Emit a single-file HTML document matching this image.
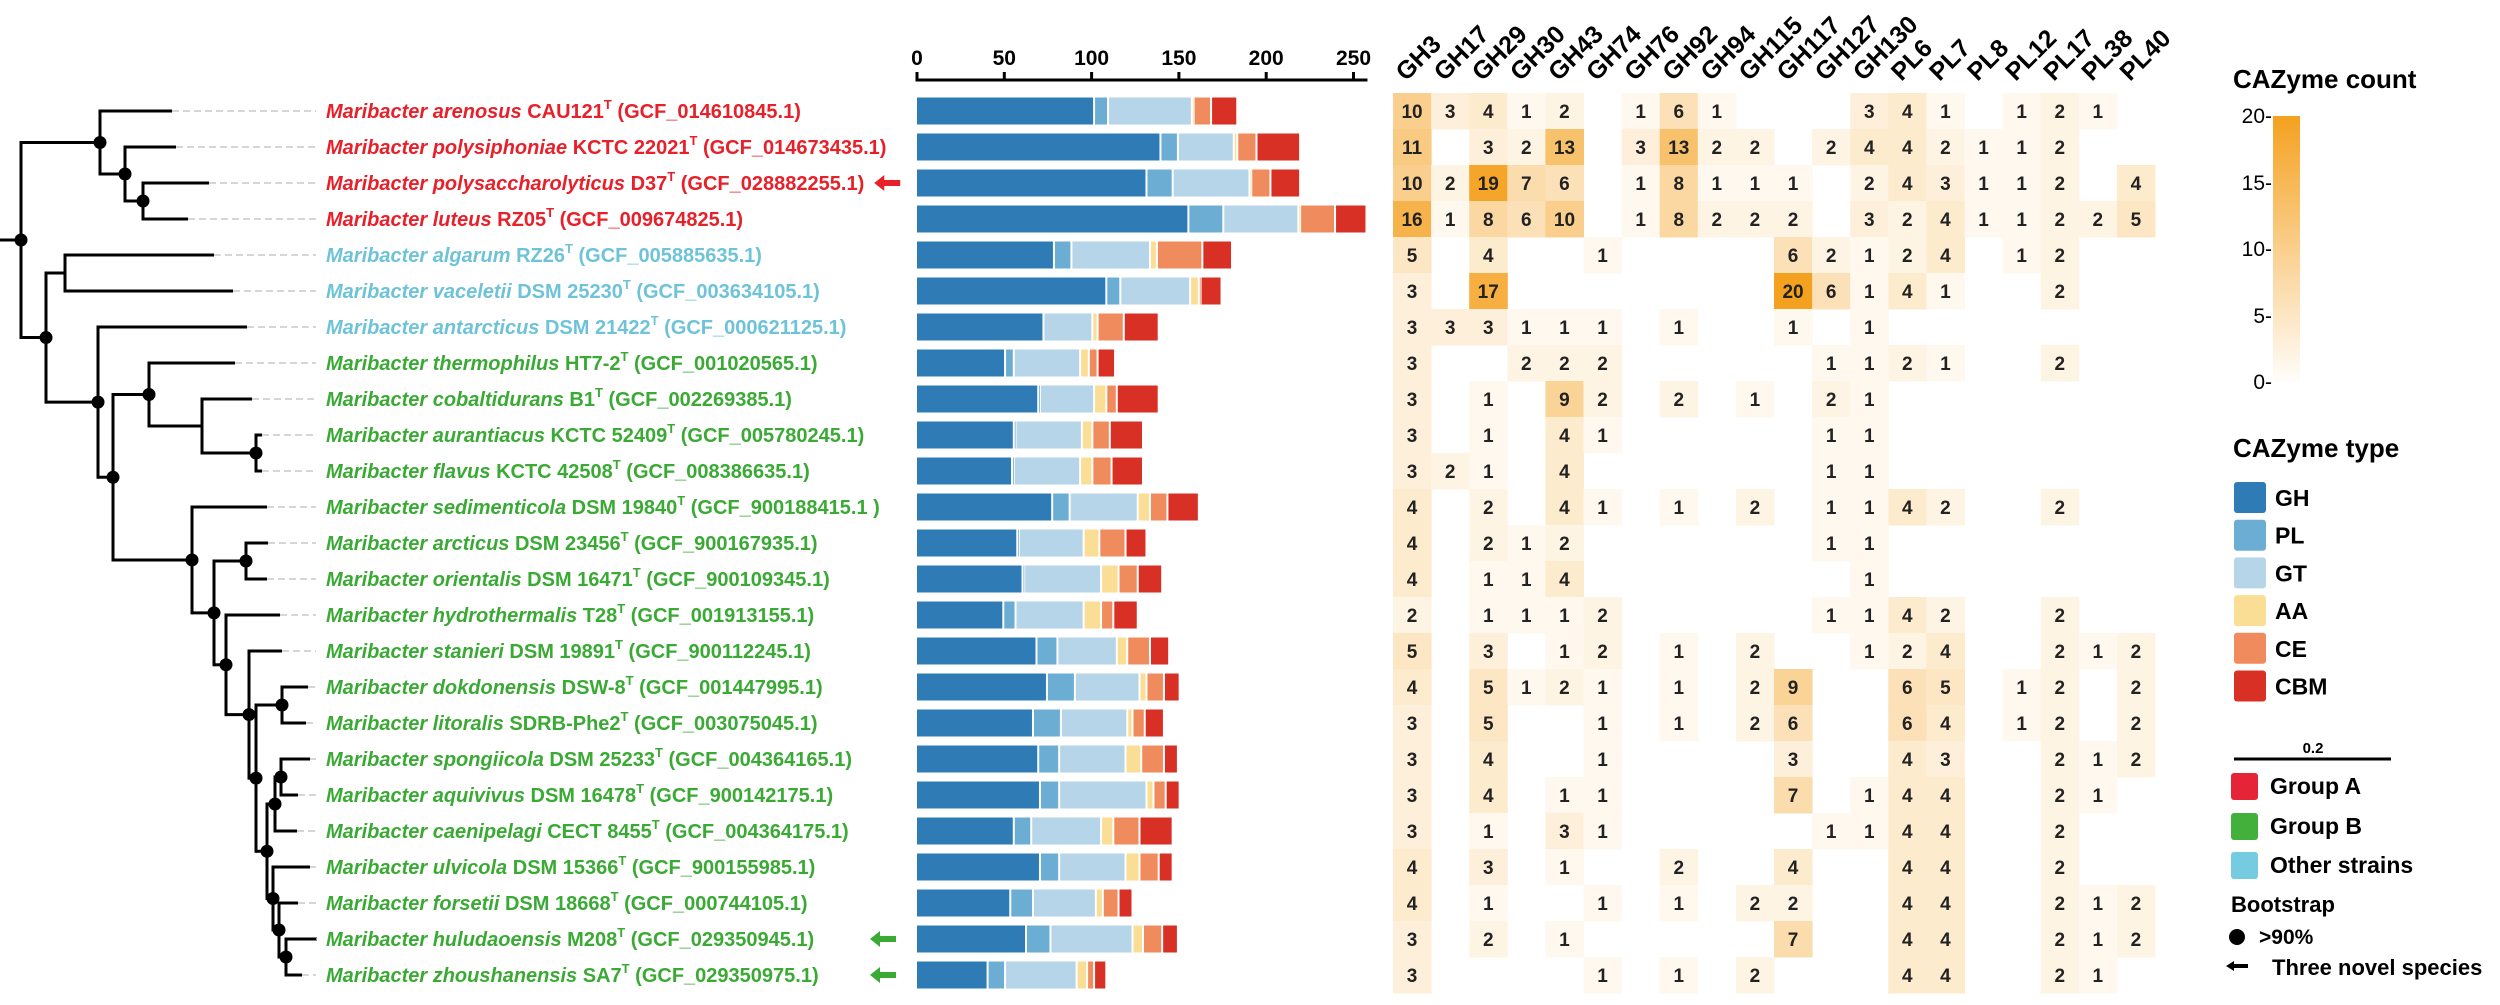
<!DOCTYPE html>
<html>
<head>
<meta charset="utf-8">
<style>
  html,body{margin:0;padding:0;background:#fff;}
  svg{display:block;font-family:"Liberation Sans",Arial,sans-serif;}
</style>
</head>
<body>
<svg id="fig" width="2500" height="1005" viewBox="0 0 2500 1005" xmlns="http://www.w3.org/2000/svg">
  <g id="tree"></g>
  <g id="labels"></g>
  <g id="bars"></g>
  <g id="heat"></g>
  <g id="legend">
    <defs>
      <linearGradient id="grad" x1="0" y1="1" x2="0" y2="0">
        <stop offset="0" stop-color="#FFFDFA"/>
        <stop offset="1" stop-color="#F4A11F"/>
      </linearGradient>
    </defs>
    <text x="2233" y="88" font-size="26" font-weight="bold">CAZyme count</text>
    <rect x="2273" y="116" width="27" height="266" fill="url(#grad)"/>
    <g font-size="21" text-anchor="end">
      <text x="2272" y="123">20-</text>
      <text x="2272" y="190">15-</text>
      <text x="2272" y="256">10-</text>
      <text x="2272" y="323">5-</text>
      <text x="2272" y="389">0-</text>
    </g>
    <text x="2233" y="457" font-size="26" font-weight="bold">CAZyme type</text>
    <g id="typeLegend"></g>
    <text x="2313" y="753" font-size="15" font-weight="bold" text-anchor="middle">0.2</text>
    <line x1="2234" y1="759" x2="2391" y2="759" stroke="#000" stroke-width="3"/>
    <rect x="2231" y="773" width="27" height="27" rx="3" fill="#E52437"/>
    <text x="2270" y="794" font-size="23" font-weight="bold">Group A</text>
    <rect x="2231" y="813" width="27" height="27" rx="3" fill="#44B03C"/>
    <text x="2270" y="834" font-size="23" font-weight="bold">Group B</text>
    <rect x="2231" y="852" width="27" height="27" rx="3" fill="#75CCE0"/>
    <text x="2270" y="873" font-size="23" font-weight="bold">Other strains</text>
    <text x="2231" y="912" font-size="22" font-weight="bold">Bootstrap</text>
    <circle cx="2237" cy="937" r="8" fill="#000"/>
    <text x="2259" y="944" font-size="21" font-weight="bold">&gt;90%</text>
    <g>
      <line x1="2232" y1="966" x2="2248" y2="966" stroke="#000" stroke-width="4"/>
      <polygon points="2226,966 2234,961 2234,971" fill="#000"/>
    </g>
    <text x="2272" y="975" font-size="22" font-weight="bold">Three novel species</text>
  </g>
</svg>
<script>
const NS = "http://www.w3.org/2000/svg";
// ---------------- data ----------------
const species = ["arenosus","polysiphoniae","polysaccharolyticus","luteus","algarum","vaceletii","antarcticus","thermophilus","cobaltidurans","aurantiacus","flavus","sedimenticola","arcticus","orientalis","hydrothermalis","stanieri","dokdonensis","litoralis","spongiicola","aquivivus","caenipelagi","ulvicola","forsetii","huludaoensis","zhoushanensis"];
const strains = ["CAU121","KCTC 22021","D37","RZ05","RZ26","DSM 25230","DSM 21422","HT7-2","B1","KCTC 52409","KCTC 42508","DSM 19840","DSM 23456","DSM 16471","T28","DSM 19891","DSW-8","SDRB-Phe2","DSM 25233","DSM 16478","CECT 8455","DSM 15366","DSM 18668","M208","SA7"];
const accessions = ["(GCF_014610845.1)","(GCF_014673435.1)","(GCF_028882255.1)","(GCF_009674825.1)","(GCF_005885635.1)","(GCF_003634105.1)","(GCF_000621125.1)","(GCF_001020565.1)","(GCF_002269385.1)","(GCF_005780245.1)","(GCF_008386635.1)","(GCF_900188415.1 )","(GCF_900167935.1)","(GCF_900109345.1)","(GCF_001913155.1)","(GCF_900112245.1)","(GCF_001447995.1)","(GCF_003075045.1)","(GCF_004364165.1)","(GCF_900142175.1)","(GCF_004364175.1)","(GCF_900155985.1)","(GCF_000744105.1)","(GCF_029350945.1)","(GCF_029350975.1)"];
const groups = ["A","A","A","A","O","O","O","B","B","B","B","B","B","B","B","B","B","B","B","B","B","B","B","B","B"];
const novel = [2,23,24];

const typeNames = ["GH","PL","GT","AA","CE","CBM"];
const GH  = [102,140,132,156,79,109,73,51,70,56,55,78,58,61,50,69,75,67,70,71,56,71,54,63,41];
const PL  = [8,10,15,20,10,8,0,5,1,1,1,10,1,1,7,12,16,16,12,11,10,11,13,14,10];
const GT  = [48,32,44,43,45,40,28,38,31,38,38,39,37,44,39,34,37,38,38,50,40,38,36,47,41];
const AA  = [1,2,1,1,4,5,3,5,7,6,7,7,9,10,10,6,4,3,9,4,7,8,4,6,6];
const CE  = [10,11,11,20,26,1,15,5,6,10,11,10,15,11,7,13,10,7,13,7,15,11,9,11,4];
const CBM = [15,25,17,18,17,12,20,10,24,19,18,18,12,14,14,11,9,11,8,8,19,8,8,9,7];
const barTicks = [0,50,100,150,200,250];

const families = ["GH3","GH17","GH29","GH30","GH43","GH74","GH76","GH92","GH94","GH115","GH117","GH127","GH130","PL6","PL7","PL8","PL12","PL17","PL38","PL40"];
const heat = [
 [10,3,4,1,2,0,1,6,1,0,0,0,3,4,1,0,1,2,1,0],
 [11,0,3,2,13,0,3,13,2,2,0,2,4,4,2,1,1,2,0,0],
 [10,2,19,7,6,0,1,8,1,1,1,0,2,4,3,1,1,2,0,4],
 [16,1,8,6,10,0,1,8,2,2,2,0,3,2,4,1,1,2,2,5],
 [5,0,4,0,0,1,0,0,0,0,6,2,1,2,4,0,1,2,0,0],
 [3,0,17,0,0,0,0,0,0,0,20,6,1,4,1,0,0,2,0,0],
 [3,3,3,1,1,1,0,1,0,0,1,0,1,0,0,0,0,0,0,0],
 [3,0,0,2,2,2,0,0,0,0,0,1,1,2,1,0,0,2,0,0],
 [3,0,1,0,9,2,0,2,0,1,0,2,1,0,0,0,0,0,0,0],
 [3,0,1,0,4,1,0,0,0,0,0,1,1,0,0,0,0,0,0,0],
 [3,2,1,0,4,0,0,0,0,0,0,1,1,0,0,0,0,0,0,0],
 [4,0,2,0,4,1,0,1,0,2,0,1,1,4,2,0,0,2,0,0],
 [4,0,2,1,2,0,0,0,0,0,0,1,1,0,0,0,0,0,0,0],
 [4,0,1,1,4,0,0,0,0,0,0,0,1,0,0,0,0,0,0,0],
 [2,0,1,1,1,2,0,0,0,0,0,1,1,4,2,0,0,2,0,0],
 [5,0,3,0,1,2,0,1,0,2,0,0,1,2,4,0,0,2,1,2],
 [4,0,5,1,2,1,0,1,0,2,9,0,0,6,5,0,1,2,0,2],
 [3,0,5,0,0,1,0,1,0,2,6,0,0,6,4,0,1,2,0,2],
 [3,0,4,0,0,1,0,0,0,0,3,0,0,4,3,0,0,2,1,2],
 [3,0,4,0,1,1,0,0,0,0,7,0,1,4,4,0,0,2,1,0],
 [3,0,1,0,3,1,0,0,0,0,0,1,1,4,4,0,0,2,0,0],
 [4,0,3,0,1,0,0,2,0,0,4,0,0,4,4,0,0,2,0,0],
 [4,0,1,0,0,1,0,1,0,2,2,0,0,4,4,0,0,2,1,2],
 [3,0,2,0,1,0,0,0,0,0,7,0,0,4,4,0,0,2,1,2],
 [3,0,0,0,0,1,0,1,0,2,0,0,0,4,4,0,0,2,1,0]
];
const heatMax = 20;

// ---------------- layout helpers ----------------
const typeColors = ["#2E7BB6","#6BADD3","#B6D5E8","#FBDE96","#F08B5E","#D93025"];
const groupColors = {A:"#E8202A",B:"#3AAA35",O:"#6EC3D8"};
function rowY(i){ return 111 + 36*i; }
const barX0 = 917, barK = 1.746;
function xBar(v){ return barX0 + v*barK; }
const hx0 = 1393, hcw = 38.1, hy0 = 93, hch = 36;
function hColX(j){ return hx0 + j*hcw; }
function hRowY(i){ return hy0 + i*hch; }
function heatColor(v){
  const t = Math.min(1, v/heatMax);
  const a=[255,253,250], b=[244,161,31];
  return "rgb("+a.map((c,k)=>Math.round(c+(b[k]-c)*t)).join(",")+")";
}
function mk(tag, attrs, parent){
  const e = document.createElementNS(NS, tag);
  for (const k in attrs) e.setAttribute(k, attrs[k]);
  parent.appendChild(e);
  return e;
}

// ---------------- tree ----------------
function L(i, tip){ return {leaf:i, tip:tip}; }
function N(x, c, dot){ return {x:x, c:c, dot:dot}; }
const treeRoot = N(21,[
  N(100,[L(0,172), N(125,[L(1,176), N(143,[L(2,209),L(3,188)],1)],1)],1),
  N(46,[
    N(65,[L(4,214),L(5,233)],0),
    N(98,[L(6,247),
      N(113,[
        N(149,[L(7,235), N(202,[L(8,252), N(256,[L(9,262),L(10,262)],1)],0)],1),
        N(192,[L(11,267),
          N(214,[
            N(246,[L(12,268),L(13,267)],1),
            N(226,[L(14,280),
              N(249,[L(15,282),
                N(256,[
                  N(282,[L(16,308),L(17,306)],1),
                  N(267,[
                    N(275,[N(281,[L(18,310),L(19,298)],1), L(20,297)],1),
                    N(273,[L(21,310), N(279,[L(22,298), N(286,[L(23,317),L(24,302)],1)],1)],1)
                  ],1)
                ],1)
              ],1)
            ],1)
          ],1)
        ],1)
      ],1)
    ],1)
  ],1)
],1);
const treeG = document.getElementById("tree");
const dots = [];
function layout(n){
  if (n.leaf !== undefined){ n.y = rowY(n.leaf); return n.y; }
  const ys = n.c.map(layout);
  n.y = (ys[0] + ys[ys.length-1]) / 2;
  return n.y;
}
layout(treeRoot);
function drawNode(n){
  if (n.leaf !== undefined) return;
  const ys = n.c.map(c=>c.y);
  const v = mk("line",{x1:n.x,y1:ys[0],x2:n.x,y2:ys[ys.length-1],stroke:"#000","stroke-width":3,"stroke-linecap":"square"},treeG);
  
  
  n.c.forEach(c=>{
    const x2 = c.leaf !== undefined ? c.tip : c.x;
    const h = mk("line",{x1:n.x,y1:c.y,x2:x2,y2:c.y,stroke:"#000","stroke-width":3},treeG);
    
    
    if (c.leaf !== undefined){
      const d = mk("line",{x1:c.tip,y1:c.y,x2:316,y2:c.y,stroke:"#C8C8C8","stroke-width":1.5,"stroke-dasharray":"7 4"},treeG);
      
      
    }
    drawNode(c);
  });
  if (n.dot) dots.push([n.x, n.y]);
}
const stub = mk("line",{x1:0,y1:treeRoot.y,x2:21,y2:treeRoot.y,stroke:"#000","stroke-width":3},treeG);


drawNode(treeRoot);
dots.forEach(p=>{
  const c = mk("circle",{cx:p[0],cy:p[1],r:6.5,fill:"#000"},treeG);
  
  
});

// ---------------- labels ----------------
const labG = document.getElementById("labels");
species.forEach((sp,i)=>{
  const col = groupColors[groups[i]];
  const t = mk("text",{x:326,y:rowY(i)+7,"font-size":20,"font-weight":"bold",fill:col},labG);
  
  
  const it = mk("tspan",{"font-style":"italic"},t); it.textContent = "Maribacter "+sp;
  const s = mk("tspan",{},t); s.textContent = " "+strains[i];
  const sup = mk("tspan",{dy:-9,"font-size":13},t); sup.textContent = "T";
  const ac = mk("tspan",{dy:9},t); ac.textContent = " "+accessions[i];
});
novel.forEach(i=>{
  const col = groupColors[groups[i]];
  const bb = labG.children[i].getBBox();
  const x = Math.max(bb.x + bb.width + 10, 870);
  const g = mk("g",{},labG);
  
  
  mk("rect",{x:x+8,y:rowY(i)-3,width:18,height:6,fill:col},g);
  mk("polygon",{points:(x)+","+rowY(i)+" "+(x+10)+","+(rowY(i)-8)+" "+(x+10)+","+(rowY(i)+8),fill:col},g);
});

// ---------------- bars ----------------
const barG = document.getElementById("bars");
const axisLine = mk("line",{x1:xBar(0)-1.5,y1:80,x2:xBar(258),y2:80,stroke:"#000","stroke-width":3},barG);


barTicks.forEach(v=>{
  const tk = mk("line",{x1:xBar(v),y1:72,x2:xBar(v),y2:80,stroke:"#000","stroke-width":3},barG);
  
  
  const tl = mk("text",{x:xBar(v),y:65,"font-size":21,"font-weight":"bold","text-anchor":"middle"},barG);
  
  
  tl.textContent = v;
});
const series = [GH,PL,GT,AA,CE,CBM];
species.forEach((sp,i)=>{
  let acc = 0;
  series.forEach((arr,k)=>{
    const v = arr[i];
    if (v > 0){
      const x = xBar(acc);
      const w = Math.max(0.8, v*barK - 2);
      const r = mk("rect",{x:x,y:rowY(i)-13.5,width:w,height:27,fill:typeColors[k]},barG);
      
      
    }
    acc += v;
  });
});

// ---------------- heatmap ----------------
const heatG = document.getElementById("heat");
families.forEach((f,j)=>{
  const cx = hColX(j) + hcw/2 - 6;
  const t = mk("text",{x:cx,y:82,"font-size":25,"font-weight":"bold",transform:"rotate(-45 "+cx+" 82)"},heatG);
  
  
  t.textContent = f;
});
heat.forEach((row,i)=>{
  row.forEach((v,j)=>{
    if (v <= 0) return;
    const r = mk("rect",{x:hColX(j),y:hRowY(i),width:hcw+0.5,height:hch+0.5,fill:heatColor(v)},heatG);
    
    
    const t = mk("text",{x:hColX(j)+hcw/2,y:hRowY(i)+hch/2+7,"font-size":19,"font-weight":"bold","text-anchor":"middle",fill:"#222"},heatG);
    
    
    t.textContent = v;
  });
});

// ---------------- type legend ----------------
const tl = document.getElementById("typeLegend");
typeNames.forEach((n,k)=>{
  const y = 482 + k*37.7;
  const r = mk("rect",{x:2234,y:y,width:32,height:31,rx:3,fill:typeColors[k]},tl);
  
  
  const t = mk("text",{x:2275,y:y+24,"font-size":23,"font-weight":"bold"},tl);
  
  
  t.textContent = n;
});
</script>
</body>
</html>
